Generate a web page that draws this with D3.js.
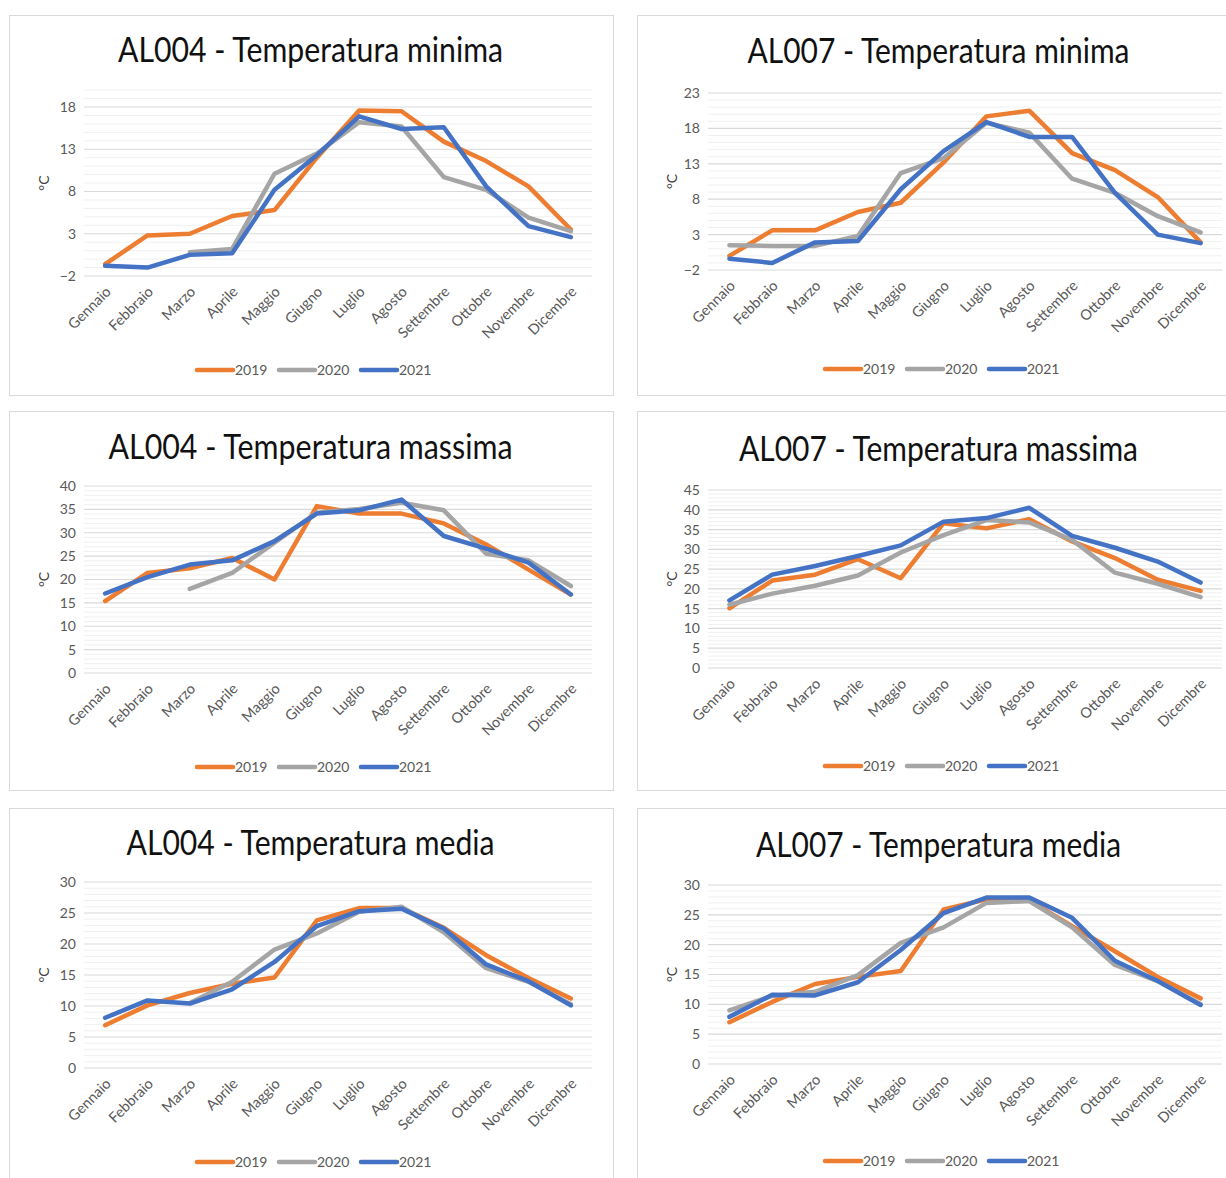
<!DOCTYPE html>
<html><head><meta charset="utf-8">
<script src="https://cdn.jsdelivr.net/npm/d3@7"></script>
<style>
html,body{margin:0;padding:0;background:#fff;}
svg{display:block;}
text{font-family:Lato,"Open Sans",sans-serif;}
</style></head>
<body>
<svg id="chart" width="1226" height="1178"></svg>
<script>
// ---------- DATA ----------
const months = ["Gennaio","Febbraio","Marzo","Aprile","Maggio","Giugno","Luglio","Agosto","Settembre","Ottobre","Novembre","Dicembre"];
const years = ["2019","2020","2021"];
const yearColors = ["#ED7D31","#A5A5A5","#4472C4"];

const al004Min2019 = [-0.6, 2.8, 3.0, 5.1, 5.8, 12.0, 17.6, 17.5, 13.9, 11.6, 8.6, 3.5];
const al004Min2020 = [null, null, 0.8, 1.2, 10.1, 12.5, 16.2, 15.7, 9.7, 8.2, 4.9, 3.3];
const al004Min2021 = [-0.8, -1.0, 0.5, 0.7, 8.2, 12.3, 16.9, 15.4, 15.6, 8.6, 3.9, 2.6];

const al007Min2019 = [0.0, 3.6, 3.6, 6.2, 7.5, 13.2, 19.7, 20.5, 14.5, 12.1, 8.3, 1.9];
const al007Min2020 = [1.5, 1.4, 1.4, 2.8, 11.7, 13.8, 18.8, 17.4, 10.9, 8.9, 5.6, 3.3];
const al007Min2021 = [-0.4, -1.0, 1.9, 2.1, 9.4, 14.8, 18.9, 16.8, 16.8, 8.9, 3.0, 1.8];

const al004Max2019 = [15.4, 21.4, 22.4, 24.6, 20.0, 35.7, 34.1, 34.1, 32.0, 27.5, 22.1, 16.8];
const al004Max2020 = [null, null, 18.0, 21.4, 27.9, 34.3, 35.1, 36.4, 34.8, 25.5, 24.1, 18.6];
const al004Max2021 = [17.0, 20.5, 23.2, 24.1, 28.2, 34.1, 34.8, 37.1, 29.3, 26.6, 23.6, 16.8];

const al007Max2019 = [15.1, 22.1, 23.6, 27.5, 22.7, 36.6, 35.3, 37.6, 32.0, 27.8, 22.3, 19.5];
const al007Max2020 = [16.0, 18.8, 20.8, 23.4, 29.2, 33.6, 37.4, 36.8, 32.4, 24.1, 21.3, 17.9];
const al007Max2021 = [17.1, 23.6, 25.8, 28.3, 31.0, 37.0, 37.9, 40.5, 33.4, 30.4, 26.9, 21.6];

const al004Med2019 = [6.9, 10.1, 12.1, 13.6, 14.6, 23.8, 25.8, 25.8, 22.6, 18.2, 14.5, 11.2];
const al004Med2020 = [null, null, 10.5, 13.9, 19.1, 21.7, 25.2, 26.0, 21.9, 16.1, 13.9, 10.3];
const al004Med2021 = [8.1, 10.9, 10.4, 12.7, 17.1, 22.9, 25.3, 25.7, 22.5, 16.7, 14.0, 10.1];

const al007Med2019 = [7.0, 10.4, 13.4, 14.6, 15.6, 25.9, 27.6, 27.4, 23.1, 18.9, 14.6, 11.0];
const al007Med2020 = [9.0, 11.4, 12.1, 14.9, 20.3, 22.9, 27.0, 27.3, 22.9, 16.6, 13.9, 10.0];
const al007Med2021 = [7.9, 11.6, 11.5, 13.7, 19.1, 25.3, 27.9, 27.9, 24.5, 17.3, 13.9, 9.9];

const titles = ["AL004 - Temperatura minima","AL007 - Temperatura minima","AL004 - Temperatura massima","AL007 - Temperatura massima","AL004 - Temperatura media","AL007 - Temperatura media"];
const yTicksMinAL004 = [-2, 3, 8, 13, 18];
const yTicksMinAL007 = [-2, 3, 8, 13, 18, 23];
const yTicksMaxAL004 = [0, 5, 10, 15, 20, 25, 30, 35, 40];
const yTicksMaxAL007 = [0, 5, 10, 15, 20, 25, 30, 35, 40, 45];
const yTicksMed = [0, 5, 10, 15, 20, 25, 30];
const yDomains = [[-2, 20], [-2, 23], [0, 40], [0, 45], [0, 30], [0, 30]];
const yUnit = "°C";

// ---------- LAYOUT ----------
const panels = [
  {title: titles[0], series: [al004Min2019, al004Min2020, al004Min2021], ticks: yTicksMinAL004, domain: yDomains[0],
   box: [9.5, 15.5, 604, 380], xr: [84, 592], yr: [276, 90.1], titleY: 62, titleW: 385, legY: 370, legX: 197},
  {title: titles[1], series: [al007Min2019, al007Min2020, al007Min2021], ticks: yTicksMinAL007, domain: yDomains[1],
   box: [637.5, 15.5, 604, 380], xr: [708, 1222], yr: [270, 93], titleY: 63, titleW: 382, legY: 369, legX: 825},
  {title: titles[2], series: [al004Max2019, al004Max2020, al004Max2021], ticks: yTicksMaxAL004, domain: yDomains[2],
   box: [9.5, 411.5, 604, 379], xr: [84, 592], yr: [673, 486], titleY: 459, titleW: 404, legY: 767, legX: 197},
  {title: titles[3], series: [al007Max2019, al007Max2020, al007Max2021], ticks: yTicksMaxAL007, domain: yDomains[3],
   box: [637.5, 411.5, 604, 379], xr: [708, 1222], yr: [668, 490], titleY: 461, titleW: 399, legY: 766, legX: 825},
  {title: titles[4], series: [al004Med2019, al004Med2020, al004Med2021], ticks: yTicksMed, domain: yDomains[4],
   box: [9.5, 808.5, 604, 390], xr: [84, 592], yr: [1068, 882], titleY: 855, titleW: 368, legY: 1162, legX: 197},
  {title: titles[5], series: [al007Med2019, al007Med2020, al007Med2021], ticks: yTicksMed, domain: yDomains[5],
   box: [637.5, 808.5, 604, 390], xr: [708, 1222], yr: [1064, 885], titleY: 857, titleW: 365, legY: 1161, legX: 825}
];

const svg = d3.select("#chart");

panels.forEach(p => {
  const g = svg.append("g");
  g.append("rect").attr("x", p.box[0]).attr("y", p.box[1]).attr("width", p.box[2]).attr("height", p.box[3])
    .attr("fill", "#fff").attr("stroke", "#D9D9D9").attr("stroke-width", 1);

  const x = d3.scaleBand().domain(months).range(p.xr);
  const cx = m => x(m) + x.bandwidth() / 2;
  const y = d3.scaleLinear().domain(p.domain).range(p.yr);

  const minor = d3.range(p.domain[0], p.domain[1] + 0.001, 1).filter(v => (v - p.ticks[0]) % 5 !== 0);
  g.append("g").selectAll("line").data(minor).join("line")
    .attr("x1", p.xr[0]).attr("x2", p.xr[1])
    .attr("y1", d => y(d)).attr("y2", d => y(d))
    .attr("stroke", "#F0F0F0").attr("stroke-width", 1);
  g.append("g").selectAll("line").data(p.ticks).join("line")
    .attr("x1", p.xr[0]).attr("x2", p.xr[1])
    .attr("y1", d => y(d)).attr("y2", d => y(d))
    .attr("stroke", "#D9D9D9").attr("stroke-width", 1.2);

  const ya = g.append("g").attr("transform", `translate(${p.xr[0] - 8},0)`)
    .call(d3.axisLeft(y).tickValues(p.ticks).tickSize(0).tickPadding(0).tickFormat(d3.format("d")));
  ya.select(".domain").remove();
  ya.selectAll("text").attr("fill", "#595959").style("font-size", "14px").style("font-family", "Lato, sans-serif");

  const xa = g.append("g").attr("transform", `translate(0,${p.yr[0]})`)
    .call(d3.axisBottom(x).tickSize(0).tickPadding(0));
  xa.select(".domain").remove();
  xa.selectAll("text")
    .attr("fill", "#595959").style("font-size", "14.5px").style("font-family", "Lato, sans-serif")
    .attr("text-anchor", "end").attr("y", 0).attr("dy", "0.35em")
    .attr("transform", "translate(3,13) rotate(-45)");

  g.append("text").attr("transform", `translate(${p.box[0] + 35},${(p.yr[0] + p.yr[1]) / 2}) rotate(-90)`)
    .attr("text-anchor", "middle").attr("dy", "0.35em").attr("fill", "#404040")
    .style("font-size", "14px").text(yUnit);

  g.append("text").attr("x", p.box[0] + p.box[2] / 2 - 1).attr("y", p.titleY)
    .attr("text-anchor", "middle").attr("fill", "#111")
    .attr("textLength", p.titleW).attr("lengthAdjust", "spacingAndGlyphs")
    .style("font-size", "34px").text(p.title);

  const line = d3.line().defined(d => d.v != null).x(d => cx(d.m)).y(d => y(d.v));
  p.series.forEach((s, i) => {
    const pts = months.map((m, k) => ({m, v: s[k]}));
    g.append("path").attr("d", line(pts)).attr("fill", "none")
      .attr("stroke", yearColors[i]).attr("stroke-width", 4.5)
      .attr("stroke-linejoin", "round").attr("stroke-linecap", "round");
  });

  years.forEach((yr, i) => {
    const lx = p.legX + i * 82;
    g.append("line").attr("x1", lx).attr("x2", lx + 36).attr("y1", p.legY).attr("y2", p.legY)
      .attr("stroke", yearColors[i]).attr("stroke-width", 4.5).attr("stroke-linecap", "round");
    g.append("text").attr("x", lx + 38).attr("y", p.legY).attr("dy", "0.35em")
      .attr("fill", "#595959").style("font-size", "14px").text(yr);
  });
});
</script>
</body></html>
